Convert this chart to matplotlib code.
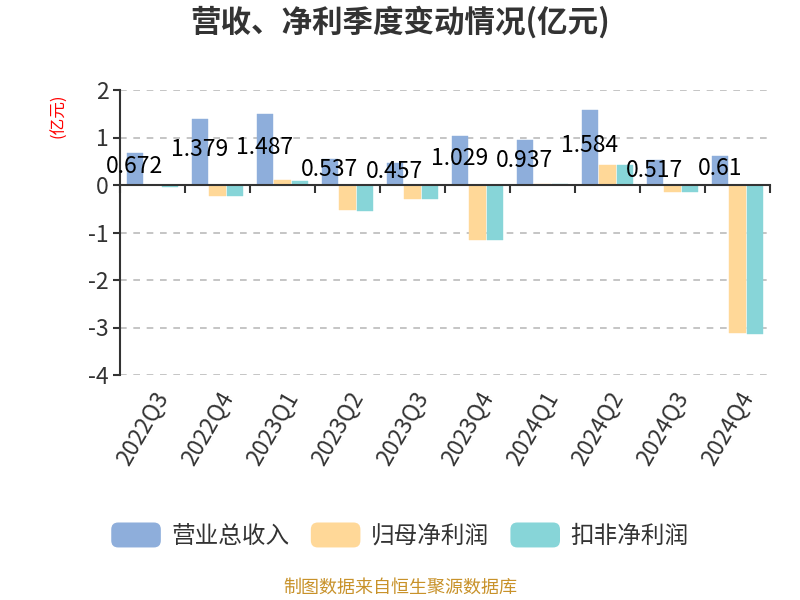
import numpy as np
import matplotlib
matplotlib.use("Agg")
import matplotlib.pyplot as plt
from matplotlib.patches import FancyBboxPatch, Patch
from matplotlib.legend_handler import HandlerPatch

plt.rcParams['font.family'] = ['Noto Sans CJK SC', 'DejaVu Sans']

# ─── Datos ────────────────────────────────────────────
trimestres = ["2022Q3", "2022Q4", "2023Q1", "2023Q2", "2023Q3",
              "2023Q4", "2024Q1", "2024Q2", "2024Q3", "2024Q4"]
ingresos = [0.672, 1.379, 1.487, 0.537, 0.457, 1.029, 0.937, 1.584, 0.517, 0.61]
neto_matriz = [0.01, -0.23, 0.10, -0.53, -0.30, -1.15, 0.03, 0.42, -0.14, -3.12]
neto_recurrente = [-0.035, -0.23, 0.085, -0.54, -0.30, -1.15, 0.025, 0.42, -0.14, -3.13]
series_nombres = ["营业总收入", "归母净利润", "扣非净利润"]
yticks = [2, 1, 0, -1, -2, -3, -4]

COLORES = ["#8EAEDB", "#FFD898", "#87D5D8"]
GRIS = "#333333"

fig = plt.figure(figsize=(8, 6), dpi=100)
ax = fig.add_axes([0.15, 0.375, 0.8125, 0.475])

x = np.arange(len(trimestres))
ancho = 0.25
paso = 0.27
for i, (vals, color) in enumerate(zip([ingresos, neto_matriz, neto_recurrente], COLORES)):
    ax.bar(x + (i - 1) * paso, vals, width=ancho, color=color, edgecolor=color,
           linewidth=0.3, zorder=3)

# etiquetas de valor (solo ingresos)
for xi, v in zip(x, ingresos):
    ax.text(xi - paso, v / 2 + 0.05, f"{v:g}", ha="center", va="center",
            fontsize=16.5, color="black", zorder=5)

ax.set_xlim(-0.5, len(trimestres) - 0.5)
ax.set_ylim(-4, 2)
ax.set_yticks(yticks)
ax.set_yticklabels([str(t) for t in yticks], fontsize=16.5, color=GRIS)
ax.tick_params(axis="y", length=5, width=1.5, color=GRIS, pad=3)

for y in yticks:
    if y != 0:
        ax.axhline(y, color="#BBBBBB", linestyle=(0, (4, 4)), linewidth=1.2, zorder=1)

ax.spines["top"].set_visible(False)
ax.spines["right"].set_visible(False)
ax.spines["left"].set_color(GRIS)
ax.spines["left"].set_linewidth(1.5)
ax.spines["bottom"].set_position(("data", 0))
ax.spines["bottom"].set_color(GRIS)
ax.spines["bottom"].set_linewidth(1.5)
ax.spines["bottom"].set_zorder(4)
ax.set_xticks(np.arange(len(trimestres) + 1) - 0.5)
ax.set_xticklabels([])
ax.tick_params(axis="x", length=6, width=1.5, color=GRIS, direction="out")

sec = ax.secondary_xaxis("bottom")
sec.set_xticks(x)
sec.set_xticklabels(trimestres, rotation=60, ha="right", rotation_mode="anchor",
                    fontsize=16.5, color=GRIS)
sec.tick_params(length=0, pad=9)
sec.spines["bottom"].set_visible(False)

fig.text(0.5, 0.962, "营收、净利季度变动情况(亿元)", ha="center", va="center",
         fontsize=22, fontweight="bold", color=GRIS)
fig.text(0.074, 0.807, "(亿元)", ha="center", va="center", rotation=90,
         fontsize=12, color="red")


class HandlerRedondeado(HandlerPatch):
    def create_artists(self, legend, orig_handle, xdescent, ydescent, width, height, fontsize, trans):
        p = FancyBboxPatch((-xdescent, -ydescent), width, height,
                           boxstyle="round,pad=0,rounding_size=5",
                           facecolor=orig_handle.get_facecolor(), edgecolor="none",
                           transform=trans)
        return [p]


handles = [Patch(facecolor=c, label=n) for c, n in zip(COLORES, series_nombres)]
leg = fig.legend(handles=handles, loc="center", bbox_to_anchor=(0.5, 0.108), ncol=3,
                 frameon=False, fontsize=17, handlelength=2.1, handleheight=1.25,
                 handletextpad=0.45, columnspacing=0.9,
                 handler_map={Patch: HandlerRedondeado()})
for t in leg.get_texts():
    t.set_color(GRIS)

fig.text(0.5, 0.02, "制图数据来自恒生聚源数据库", ha="center", va="center",
         fontsize=13, color="#C8922A")

fig.savefig("out.png", dpi=100, facecolor="white")
